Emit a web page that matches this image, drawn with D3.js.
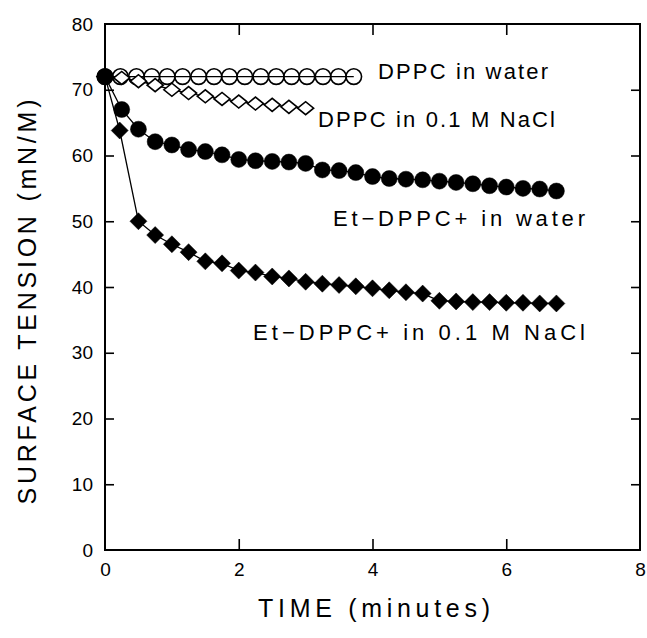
<!DOCTYPE html>
<html>
<head>
<meta charset="utf-8">
<script src="https://cdn.jsdelivr.net/npm/d3@7"></script>
<style>
	body { margin: 0; background: #fff; }
	svg text { font-family: "Liberation Sans", Arial, sans-serif; fill: #000; }
</style>
</head>
<body>
<svg id="chart" width="647" height="638"></svg>
<script>
// values (time in minutes, surface tension in mN/M)
const dppcWaterTime = [0, 0.23, 0.47, 0.70, 0.93, 1.16, 1.40, 1.63, 1.86, 2.09, 2.33, 2.56, 2.79, 3.02, 3.26, 3.49, 3.72];
const dppcWaterTension = [72, 72, 72, 72, 72, 72, 72, 72, 72, 72, 72, 72, 72, 72, 72, 72, 72];

const dppcSaltTime = [0, 0.25, 0.5, 0.75, 1, 1.25, 1.5, 1.75, 2, 2.25, 2.5, 2.75, 3];
const dppcSaltTension = [72, 71.8, 71.3, 70.7, 70.0, 69.5, 69.0, 68.6, 68.2, 67.9, 67.7, 67.4, 67.2];

const etWaterTime = [0, 0.25, 0.5, 0.75, 1, 1.25, 1.5, 1.75, 2, 2.25, 2.5, 2.75, 3, 3.25, 3.5, 3.75,
	4, 4.25, 4.5, 4.75, 5, 5.25, 5.5, 5.75, 6, 6.25, 6.5, 6.75];
const etWaterTension = [72, 67, 64, 62.1, 61.6, 60.9, 60.6, 60.1, 59.4, 59.2, 59.1, 59.0, 58.8, 57.8, 57.7, 57.4,
	56.8, 56.5, 56.4, 56.3, 56.1, 55.9, 55.7, 55.4, 55.2, 55.0, 54.9, 54.6];

const etSaltTime = [0, 0.22, 0.5, 0.75, 1, 1.25, 1.5, 1.75, 2, 2.25, 2.5, 2.75, 3, 3.25, 3.5, 3.75,
	4, 4.25, 4.5, 4.75, 5, 5.25, 5.5, 5.75, 6, 6.25, 6.5, 6.75];
const etSaltTension = [72, 63.8, 50, 47.9, 46.5, 45.3, 43.9, 43.6, 42.5, 42.2, 41.6, 41.3, 40.8, 40.5, 40.3, 40.1,
	39.8, 39.5, 39.2, 39.0, 37.9, 37.8, 37.7, 37.7, 37.6, 37.6, 37.5, 37.5];

const xTicks = [0, 2, 4, 6, 8];
const yTicks = [0, 10, 20, 30, 40, 50, 60, 70, 80];
const xInnerTicks = [2, 4, 6];
const yInnerTicks = [10, 20, 30, 40, 50, 60, 70];

const labels = [
	{text: 'DPPC in water', x: 378, y: 79, len: 170},
	{text: 'DPPC in 0.1 M NaCl', x: 318, y: 127, len: 237},
	{text: 'Et\u2212DPPC+ in water', x: 333, y: 226, len: 252},
	{text: 'Et\u2212DPPC+ in 0.1 M NaCl', x: 253, y: 340, len: 332}
];

const svg = d3.select('#chart');
const mLeft = 105, mRight = 640, mTop = 24, mBottom = 550;

const x = d3.scaleLinear().domain([0, 8]).range([mLeft, mRight]);
const y = d3.scaleLinear().domain([0, 80]).range([mBottom, mTop]);

// frame
svg.append('rect')
	.attr('x', mLeft).attr('y', mTop)
	.attr('width', mRight - mLeft).attr('height', mBottom - mTop)
	.attr('fill', 'none').attr('stroke', '#000').attr('stroke-width', 2);

// axes, ticks point inward
function styleAxis(g) {
	g.select('.domain').remove();
	g.selectAll('.tick line').attr('stroke', '#000').attr('stroke-width', 1.6);
	g.selectAll('.tick text').style('font-size', '19px');
}

svg.append('g')
	.attr('transform', `translate(${mLeft},0)`)
	.call(d3.axisLeft(y).tickValues(yTicks).tickSize(0).tickPadding(12).tickFormat(d3.format('d')))
	.call(styleAxis);
svg.append('g')
	.attr('transform', `translate(${mLeft},0)`)
	.call(d3.axisLeft(y).tickValues(yInnerTicks).tickSize(-9).tickFormat(''))
	.call(styleAxis);
svg.append('g')
	.attr('transform', `translate(${mRight},0)`)
	.call(d3.axisRight(y).tickValues(yInnerTicks).tickSize(-9).tickFormat(''))
	.call(styleAxis);
svg.append('g')
	.attr('transform', `translate(0,${mBottom})`)
	.call(d3.axisBottom(x).tickValues(xTicks).tickSize(0).tickPadding(13).tickFormat(d3.format('d')))
	.call(styleAxis);
svg.append('g')
	.attr('transform', `translate(0,${mBottom})`)
	.call(d3.axisBottom(x).tickValues(xInnerTicks).tickSize(-11).tickFormat(''))
	.call(styleAxis);
svg.append('g')
	.attr('transform', `translate(0,${mTop})`)
	.call(d3.axisTop(x).tickValues(xInnerTicks).tickSize(-11).tickFormat(''))
	.call(styleAxis);

// axis titles
svg.append('text')
	.attr('transform', 'translate(36,302) rotate(-90)')
	.attr('text-anchor', 'middle')
	.attr('textLength', 405).attr('lengthAdjust', 'spacing')
	.style('font-size', '25px')
	.text('SURFACE TENSION (mN/M)');
svg.append('text')
	.attr('x', 258).attr('y', 617)
	.attr('textLength', 232).attr('lengthAdjust', 'spacing')
	.style('font-size', '25px')
	.text('TIME (minutes)');

function zip(ts, vs) {
	return ts.map((t, i) => ({t: t, v: vs[i]}));
}

const line = d3.line().x(d => x(d.t)).y(d => y(d.v));
const series = [
	{data: zip(dppcWaterTime, dppcWaterTension), mark: 'circle', filled: false},
	{data: zip(dppcSaltTime, dppcSaltTension), mark: 'diamond', filled: false},
	{data: zip(etSaltTime, etSaltTension), mark: 'diamond', filled: true},
	{data: zip(etWaterTime, etWaterTension), mark: 'circle', filled: true}
];

const plot = svg.append('g');
series.forEach(s => {
	plot.append('path')
		.datum(s.data)
		.attr('d', line)
		.attr('fill', 'none').attr('stroke', '#000').attr('stroke-width', 1.3);

	const pts = plot.selectAll(null).data(s.data).enter();
	if (s.mark === 'circle') {
		pts.append('circle')
			.attr('cx', d => x(d.t)).attr('cy', d => y(d.v))
			.attr('r', s.filled ? 8 : 7.8)
			.attr('fill', s.filled ? '#000' : 'none')
			.attr('stroke', '#000').attr('stroke-width', s.filled ? 0.5 : 1.6);
	} else {
		const hw = s.filled ? 8.5 : 8, hh = s.filled ? 8.5 : 6.5;
		pts.append('path')
			.attr('d', d => {
				const cx = x(d.t), cy = y(d.v);
				return `M${cx - hw},${cy}L${cx},${cy - hh}L${cx + hw},${cy}L${cx},${cy + hh}Z`;
			})
			.attr('fill', s.filled ? '#000' : '#fff')
			.attr('stroke', '#000').attr('stroke-width', s.filled ? 0.5 : 1.6);
	}
});

// series annotations
svg.selectAll('.note').data(labels).enter()
	.append('text')
	.attr('class', 'note')
	.attr('x', d => d.x).attr('y', d => d.y)
	.attr('textLength', d => d.len).attr('lengthAdjust', 'spacing')
	.style('font-size', '22px')
	.text(d => d.text);
</script>
</body>
</html>
